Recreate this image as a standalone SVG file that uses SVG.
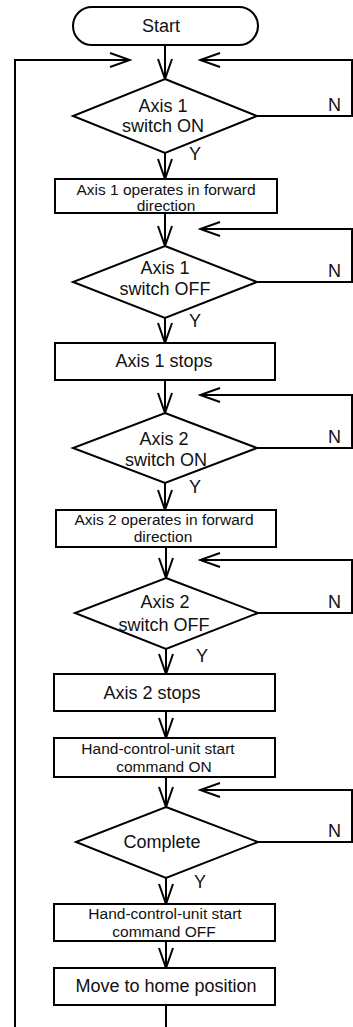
<svg xmlns="http://www.w3.org/2000/svg" width="353" height="1027" viewBox="0 0 353 1027">
<style>
.s{fill:#fff;stroke:#000;stroke-width:2}
.c{fill:none;stroke:#000;stroke-width:2}
.t{font-family:"Liberation Sans",Arial,sans-serif;font-size:18px;fill:#111;text-anchor:middle}
.m{font-family:"Liberation Sans",Arial,sans-serif;font-size:15.5px;fill:#111;text-anchor:middle}
.l{font-family:"Liberation Sans",Arial,sans-serif;font-size:18px;fill:#111}
</style>
<defs>
<marker id="a" markerUnits="userSpaceOnUse" viewBox="-2 -2 24 18" markerWidth="24" markerHeight="18" refX="20" refY="7" orient="auto">
<path d="M0,0 L20,7 L0,14" fill="none" stroke="#000" stroke-width="2"/>
</marker>
</defs>
<g id="connectors">
<path class="c" d="M15,1027 V60 H130" marker-end="url(#a)"/>
<path class="c" d="M165,45 V79" marker-end="url(#a)"/>
<path class="c" d="M257,116 H352 V60 H200" marker-end="url(#a)"/>
<path class="c" d="M165,153 V179" marker-end="url(#a)"/>
<path class="c" d="M165,213 V246" marker-end="url(#a)"/>
<path class="c" d="M257,282 H352 V229 H200" marker-end="url(#a)"/>
<path class="c" d="M165,318 V343" marker-end="url(#a)"/>
<path class="c" d="M165,380 V413" marker-end="url(#a)"/>
<path class="c" d="M257,448 H352 V395 H200" marker-end="url(#a)"/>
<path class="c" d="M165,483 V510" marker-end="url(#a)"/>
<path class="c" d="M166,547 V578" marker-end="url(#a)"/>
<path class="c" d="M258,613 H352 V560 H200" marker-end="url(#a)"/>
<path class="c" d="M166,649 V674" marker-end="url(#a)"/>
<path class="c" d="M166,711 V738" marker-end="url(#a)"/>
<path class="c" d="M166,777 V807" marker-end="url(#a)"/>
<path class="c" d="M258,842 H352 V790 H200" marker-end="url(#a)"/>
<path class="c" d="M166,878 V904" marker-end="url(#a)"/>
<path class="c" d="M166,941 V968" marker-end="url(#a)"/>
<path class="c" d="M166,1005 V1027"/>
</g>
<g id="start">
<rect class="s" x="73" y="7" width="185" height="38" rx="19"/>
<text class="t" x="161" y="32">Start</text>
</g>
<g id="d1">
<polygon class="s" points="165,79 257,116 165,153 73,116"/>
<text class="t" x="163" y="112">Axis 1</text>
<text class="t" x="163" y="132">switch ON</text>
<text class="l" x="328" y="111">N</text>
<text class="l" x="189" y="160">Y</text>
</g>
<g id="b1">
<rect class="s" x="55" y="179" width="222" height="34"/>
<text class="m" x="166" y="195">Axis 1 operates in forward</text>
<text class="m" x="166" y="211">direction</text>
</g>
<g id="d2">
<polygon class="s" points="165,246 257,282 165,318 73,282"/>
<text class="t" x="165" y="274">Axis 1</text>
<text class="t" x="165" y="295">switch OFF</text>
<text class="l" x="328" y="277">N</text>
<text class="l" x="189" y="327">Y</text>
</g>
<g id="b2">
<rect class="s" x="55" y="343" width="220" height="37"/>
<text class="t" x="164" y="367">Axis 1 stops</text>
</g>
<g id="d3">
<polygon class="s" points="165,413 257,448 165,483 73,448"/>
<text class="t" x="164" y="445">Axis 2</text>
<text class="t" x="166" y="466">switch ON</text>
<text class="l" x="328" y="443">N</text>
<text class="l" x="189" y="493">Y</text>
</g>
<g id="b3">
<rect class="s" x="56" y="510" width="220" height="37"/>
<text class="m" x="164" y="525">Axis 2 operates in forward</text>
<text class="m" x="163" y="542">direction</text>
</g>
<g id="d4">
<polygon class="s" points="166,578 258,613 166,649 75,613"/>
<text class="t" x="165" y="608">Axis 2</text>
<text class="t" x="164" y="631">switch OFF</text>
<text class="l" x="328" y="608">N</text>
<text class="l" x="196" y="662">Y</text>
</g>
<g id="b4">
<rect class="s" x="54" y="674" width="221" height="37"/>
<text class="t" x="152" y="699">Axis 2 stops</text>
</g>
<g id="b5">
<rect class="s" x="54" y="738" width="221" height="39"/>
<text class="m" x="158" y="754">Hand-control-unit start</text>
<text class="m" x="164" y="772">command ON</text>
</g>
<g id="d5">
<polygon class="s" points="166,807 258,842 166,878 76,842"/>
<text class="t" x="162" y="848">Complete</text>
<text class="l" x="328" y="837">N</text>
<text class="l" x="194" y="888">Y</text>
</g>
<g id="b6">
<rect class="s" x="54" y="904" width="221" height="37"/>
<text class="m" x="165" y="919">Hand-control-unit start</text>
<text class="m" x="164" y="937">command OFF</text>
</g>
<g id="b7">
<rect class="s" x="54" y="968" width="221" height="37"/>
<text class="t" x="166" y="992">Move to home position</text>
</g>
</svg>
